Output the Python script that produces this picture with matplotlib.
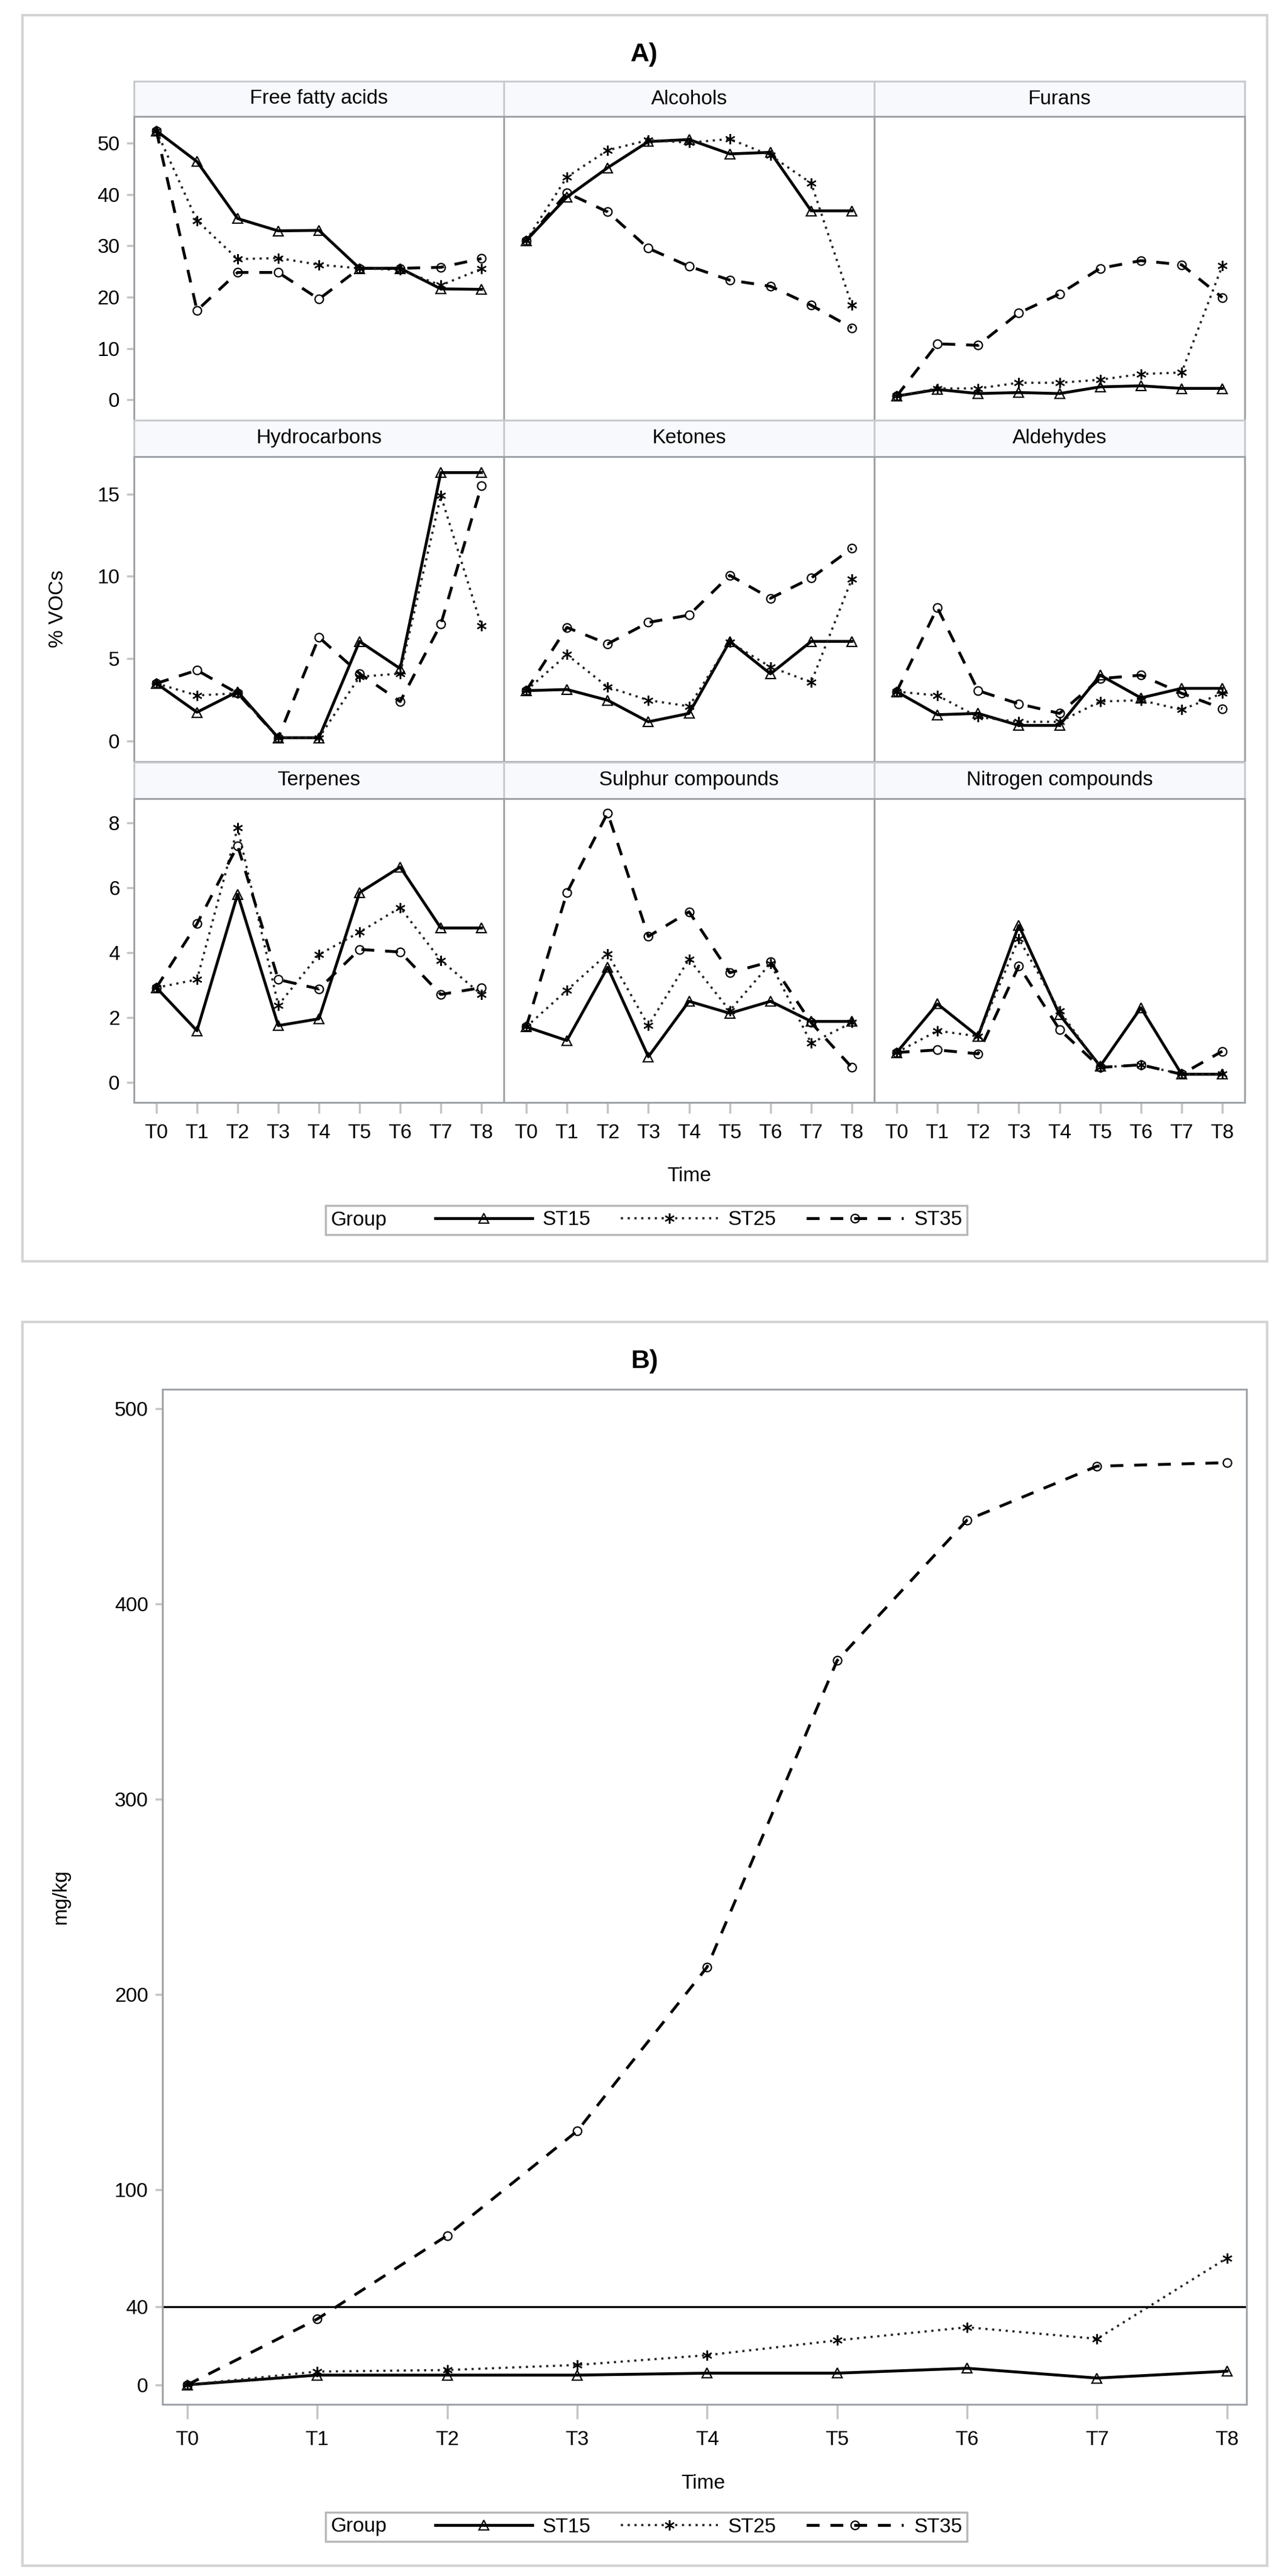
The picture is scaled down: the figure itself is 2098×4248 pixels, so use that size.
import numpy as np
import matplotlib.pyplot as plt
from matplotlib.lines import Line2D
from matplotlib.patches import Rectangle
from matplotlib.offsetbox import HPacker

plt.rcParams['font.family'] = ['Liberation Sans', 'DejaVu Sans']

W, H = 2098, 4248

# Tempi di campionamento e gruppi
times = ['T0', 'T1', 'T2', 'T3', 'T4', 'T5', 'T6', 'T7', 'T8']
groups = ['ST15', 'ST25', 'ST35']

# A) % VOCs per classe di composti
ffa_15 = [52.4, 46.4, 35.3, 32.9, 33.0, 25.6, 25.6, 21.6, 21.5]
ffa_25 = [52.4, 34.9, 27.4, 27.6, 26.3, 25.6, 25.3, 22.3, 25.5]
ffa_35 = [52.4, 17.4, 24.8, 24.8, 19.6, 25.6, 25.6, 25.8, 27.5]

alc_15 = [31.0, 39.5, 45.2, 50.3, 50.7, 47.9, 48.2, 36.8, 36.8]
alc_25 = [31.0, 43.4, 48.6, 50.6, 50.1, 50.8, 47.6, 42.2, 18.4]
alc_35 = [31.0, 40.3, 36.6, 29.5, 26.0, 23.3, 22.1, 18.4, 14.0]

fur_15 = [0.7, 2.0, 1.2, 1.4, 1.2, 2.5, 2.7, 2.2, 2.2]
fur_25 = [0.7, 2.2, 2.2, 3.3, 3.3, 3.9, 5.0, 5.3, 26.1]
fur_35 = [0.7, 10.9, 10.6, 16.9, 20.6, 25.6, 27.1, 26.3, 19.9]

hyd_15 = [3.5, 1.75, 3.0, 0.2, 0.2, 6.05, 4.4, 16.3, 16.3]
hyd_25 = [3.5, 2.77, 2.9, 0.2, 0.2, 3.9, 4.1, 14.9, 7.0]
hyd_35 = [3.5, 4.3, 2.9, 0.2, 6.3, 4.1, 2.4, 7.1, 15.5]

ket_15 = [3.06, 3.13, 2.48, 1.17, 1.68, 6.05, 4.08, 6.05, 6.05]
ket_25 = [3.06, 5.25, 3.28, 2.48, 2.11, 6.0, 4.5, 3.57, 9.84]
ket_35 = [3.06, 6.9, 5.9, 7.2, 7.65, 10.06, 8.67, 9.9, 11.7]

ald_15 = [3.0, 1.6, 1.68, 0.95, 0.95, 4.0, 2.62, 3.2, 3.2]
ald_25 = [3.0, 2.77, 1.46, 1.17, 1.17, 2.4, 2.48, 1.9, 2.9]
ald_35 = [3.0, 8.1, 3.06, 2.26, 1.68, 3.79, 4.0, 2.9, 1.97]

ter_15 = [2.92, 1.59, 5.8, 1.75, 1.96, 5.85, 6.64, 4.76, 4.76]
ter_25 = [2.92, 3.17, 7.85, 2.38, 3.94, 4.63, 5.39, 3.76, 2.71]
ter_35 = [2.92, 4.89, 7.3, 3.17, 2.88, 4.1, 4.02, 2.71, 2.92]

sul_15 = [1.71, 1.29, 3.55, 0.79, 2.5, 2.13, 2.5, 1.88, 1.88]
sul_25 = [1.71, 2.84, 3.97, 1.75, 3.8, 2.21, 3.67, 1.21, 1.84]
sul_35 = [1.71, 5.85, 8.31, 4.5, 5.26, 3.38, 3.72, 1.84, 0.46]

nit_15 = [0.92, 2.42, 1.42, 4.84, 2.09, 0.5, 2.3, 0.25, 0.25]
nit_25 = [0.92, 1.59, 1.42, 4.43, 2.21, 0.46, 0.54, 0.25, 0.25]
nit_35 = [0.92, 1.0, 0.88, 3.59, 1.63, 0.46, 0.54, 0.25, 0.96]

categories = ['Free fatty acids', 'Alcohols', 'Furans',
              'Hydrocarbons', 'Ketones', 'Aldehydes',
              'Terpenes', 'Sulphur compounds', 'Nitrogen compounds']
series_a = [(ffa_15, ffa_25, ffa_35), (alc_15, alc_25, alc_35), (fur_15, fur_25, fur_35),
            (hyd_15, hyd_25, hyd_35), (ket_15, ket_25, ket_35), (ald_15, ald_25, ald_35),
            (ter_15, ter_25, ter_35), (sul_15, sul_25, sul_35), (nit_15, nit_25, nit_35)]

# B) mg/kg totali
tot_15 = [0, 5, 5, 5, 6, 6, 8.5, 3.5, 7]
tot_25 = [0, 6.8, 7.6, 10.2, 15.2, 22.8, 29.5, 23.6, 65]
tot_35 = [0, 33.7, 76.5, 130, 214, 371, 443, 470.6, 472.4]

# stili delle linee per gruppo
styles = {
    'ST15': dict(color='black', ls='-', lw=3.4, marker='^', ms=11),
    'ST25': dict(color='#222222', ls=(0, (1, 2.1)), lw=2.6, marker=(6, 2, 0), ms=12),
    'ST35': dict(color='black', ls=(0, (4.5, 3.8)), lw=3.4, marker='o', ms=10),
}
GRID = '#9fa3a8'
TICK = '#c4c4c4'
FS = 24


def box(x0, y0, x1, y1):
    return [x0 / W, 1 - y1 / H, (x1 - x0) / W, (y1 - y0) / H]


def draw_lines(ax, vals):
    x = np.arange(len(times))
    for g, v in zip(groups, vals):
        st = styles[g]
        ax.plot(x, v, color=st['color'], ls=st['ls'], lw=st['lw'],
                marker=st['marker'], ms=st['ms'], mfc='none', mec='black', mew=1.6)


def style_spines(ax):
    for s in ax.spines.values():
        s.set_color(GRID)
        s.set_linewidth(2.2)


def group_legend(cy):
    hs = [Line2D([], [], color=styles[g]['color'], ls=styles[g]['ls'], lw=styles[g]['lw'],
                 marker=styles[g]['marker'], ms=styles[g]['ms'], mfc='none', mec='black', mew=1.6)
          for g in groups]
    leg = fig.legend(hs, groups, loc='center', bbox_to_anchor=(1066 / W, 1 - cy / H),
                     ncol=3, title='Group', fontsize=FS, title_fontsize=FS,
                     frameon=True, fancybox=False, edgecolor='#b8b8b8', framealpha=1,
                     handlelength=4.8, handletextpad=0.5, columnspacing=1.5,
                     borderpad=0.25)
    leg.get_frame().set_linewidth(2.5)
    # titolo "Group" a sinistra delle voci
    hp = HPacker(pad=leg.borderpad * FS, sep=2.4 * FS, align='center',
                 children=[leg._legend_title_box, leg._legend_handle_box])
    hp.set_figure(fig)
    leg._legend_box = hp
    hp.set_offset(leg._findoffset)
    return leg


fig = plt.figure(figsize=(W / 100, H / 100), dpi=100)

# cornici esterne
for (x0, y0, x1, y1) in [(37, 25, 2090, 2080), (37, 2180, 2090, 4231)]:
    fig.patches.append(Rectangle((x0 / W, 1 - y1 / H), (x1 - x0) / W, (y1 - y0) / H,
                                 transform=fig.transFigure, fill=False,
                                 edgecolor='#d4d4d4', lw=3))

# ---------------- A) ----------------
fig.text(1063 / W, 1 - 90 / H, 'A)', ha='center', va='center', fontsize=31, fontweight='bold')

col_x = [(221, 831), (831, 1442), (1442, 2053)]
row_y = [(192, 693), (753, 1256), (1317, 1818)]
head_y = [(134, 192), (693, 753), (1257, 1317)]
ylims = [(-4, 55.2), (-1.25, 17.27), (-0.62, 8.75)]
yticks = [[0, 10, 20, 30, 40, 50], [0, 5, 10, 15], [0, 2, 4, 6, 8]]

for k, (name, vals) in enumerate(zip(categories, series_a)):
    r, c = divmod(k, 3)
    x0, x1 = col_x[c]
    y0, y1 = row_y[r]
    ax = fig.add_axes(box(x0, y0, x1, y1))
    draw_lines(ax, vals)
    ax.set_xlim(-0.55, 8.55)
    ax.set_ylim(*ylims[r])
    ax.set_yticks(yticks[r])
    ax.set_xticks(range(len(times)))
    ax.set_xticklabels(times)
    style_spines(ax)
    ax.tick_params(axis='y', length=9, width=2.5, color=TICK, labelsize=FS, pad=8,
                   left=(c == 0), labelleft=(c == 0))
    ax.tick_params(axis='x', length=13, width=2.5, color=TICK, labelsize=FS, pad=12,
                   bottom=(r == 2), labelbottom=(r == 2))

    hy0, hy1 = head_y[r]
    hax = fig.add_axes(box(x0, hy0, x1, hy1))
    hax.set_facecolor('#f8f9fd')
    hax.set_xticks([])
    hax.set_yticks([])
    for s in hax.spines.values():
        s.set_color('#c8cacd')
        s.set_linewidth(2.2)
    hax.spines['bottom'].set_color(GRID)
    hax.text(0.5, 0.5, name, ha='center', va='center', fontsize=FS, transform=hax.transAxes)

fig.text(96 / W, 1 - 1004 / H, '% VOCs', rotation=90, ha='center', va='center', fontsize=FS)
fig.text(1137 / W, 1 - 1940 / H, 'Time', ha='center', va='center', fontsize=FS)
group_legend(2012)

# ---------------- B) ----------------
fig.text(1063 / W, 1 - 2245 / H, 'B)', ha='center', va='center', fontsize=31, fontweight='bold')

axb = fig.add_axes(box(268, 2291, 2056, 3965))
draw_lines(axb, (tot_15, tot_25, tot_35))
axb.axhline(40, color='black', lw=2.4)
axb.set_xlim(-0.19, 8.15)
axb.set_ylim(-10, 510)
axb.set_yticks([0, 40, 100, 200, 300, 400, 500])
axb.set_xticks(range(len(times)))
axb.set_xticklabels(times)
style_spines(axb)
axb.tick_params(axis='y', length=9, width=2.5, color=TICK, labelsize=FS, pad=8)
axb.tick_params(axis='x', length=17, width=2.5, color=TICK, labelsize=FS, pad=14)

fig.text(100 / W, 1 - 3128 / H, 'mg/kg', rotation=90, ha='center', va='center', fontsize=FS)
fig.text(1160 / W, 1 - 4095 / H, 'Time', ha='center', va='center', fontsize=FS)
group_legend(4167)

fig.savefig('out.png', dpi=100)
